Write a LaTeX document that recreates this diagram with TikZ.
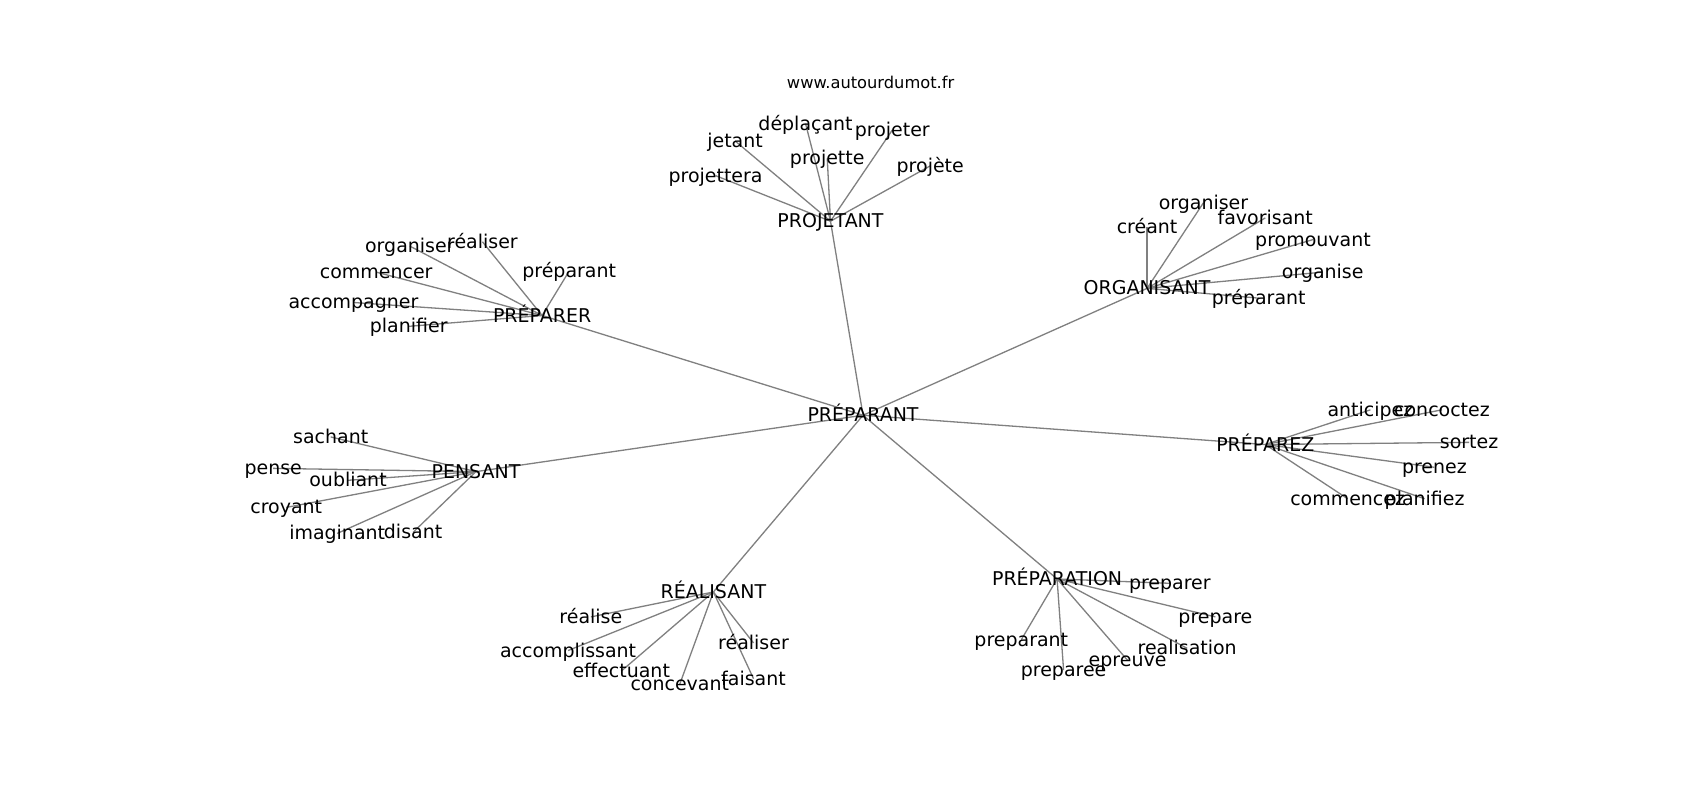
\documentclass[tikz,border=0pt]{standalone}
\usepackage{fontspec}
\setmainfont{DejaVu Sans}
\usetikzlibrary{backgrounds}
\begin{document}
\begin{tikzpicture}[x=1pt,y=-1pt,
  lbl/.style={inner sep=0pt, text height=1.2em, text depth=0em, font=\fontsize{17.5}{20}\selectfont, text=black},
  web/.style={inner sep=0pt, text height=1.1em, text depth=0em, font=\fontsize{15}{18}\selectfont, text=black},
  edge/.style={draw=gray, line width=1.2pt}]
\useasboundingbox (0,0) rectangle (1568,738);
\node[web] (url) at (803,76) {www.autourdumot.fr};
% centre
\node[lbl] (c) at (796,383) {PRÉPARANT};
% hubs
\node[lbl] (proj) at (766,204) {PROJETANT};
\node[lbl] (prer) at (500,291) {PRÉPARER};
\node[lbl] (org) at (1058,266) {ORGANISANT};
\node[lbl] (prez) at (1167,410) {PRÉPAREZ};
\node[lbl] (pens) at (439,435) {PENSANT};
\node[lbl] (real) at (658,546) {RÉALISANT};
\node[lbl] (prep) at (975,534) {PRÉPARATION};
% PROJETANT leaves
\node[lbl] (p1) at (660,162) {projettera};
\node[lbl] (p2) at (678,130) {jetant};
\node[lbl] (p3) at (743,114) {déplaçant};
\node[lbl] (p4) at (763,146) {projette};
\node[lbl] (p5) at (823,120) {projeter};
\node[lbl] (p6) at (858,153) {projète};
% PRÉPARER leaves
\node[lbl] (r1) at (378,227) {organiser};
\node[lbl] (r2) at (445,223) {réaliser};
\node[lbl] (r3) at (525,250) {préparant};
\node[lbl] (r4) at (347,251) {commencer};
\node[lbl] (r5) at (326,279) {accompagner};
\node[lbl] (r6) at (377,301) {planifier};
% ORGANISANT leaves
\node[lbl] (o1) at (1058,209) {créant};
\node[lbl] (o2) at (1110,187) {organiser};
\node[lbl] (o3) at (1167,201) {favorisant};
\node[lbl] (o4) at (1211,221) {promouvant};
\node[lbl] (o5) at (1220,251) {organise};
\node[lbl] (o6) at (1161,275) {préparant};
% PRÉPAREZ leaves
\node[lbl] (z1) at (1264,378) {anticipez};
\node[lbl] (z2) at (1330,378) {concoctez};
\node[lbl] (z3) at (1355,408) {sortez};
\node[lbl] (z4) at (1323,431) {prenez};
\node[lbl] (z5) at (1243,460) {commencez};
\node[lbl] (z6) at (1314,460) {planifiez};
% PENSANT leaves
\node[lbl] (n1) at (305,403) {sachant};
\node[lbl] (n2) at (252,432) {pense};
\node[lbl] (n3) at (321,443) {oubliant};
\node[lbl] (n4) at (264,468) {croyant};
\node[lbl] (n5) at (311,492) {imaginant};
\node[lbl] (n6) at (381,491) {disant};
% RÉALISANT leaves
\node[lbl] (a1) at (545,569) {réalise};
\node[lbl] (a2) at (524,600) {accomplissant};
\node[lbl] (a3) at (573,619) {effectuant};
\node[lbl] (a4) at (627,631) {concevant};
\node[lbl] (a5) at (695,593) {réaliser};
\node[lbl] (a6) at (695,626) {faisant};
% PRÉPARATION leaves
\node[lbl] (t1) at (1079,538) {preparer};
\node[lbl] (t2) at (1121,569) {prepare};
\node[lbl] (t3) at (1095,598) {realisation};
\node[lbl] (t4) at (1040,609) {epreuve};
\node[lbl] (t5) at (981,618) {preparee};
\node[lbl] (t6) at (942,590) {preparant};
\begin{pgfonlayer}{background}
\fill[white] (0,0) rectangle (1568,738);
\foreach \h in {proj,prer,org,prez,pens,real,prep}
  \draw[edge] (c.center) -- (\h.center);
\foreach \l in {p1,p2,p3,p4,p5,p6}
  \draw[edge] (proj.center) -- (\l.center);
\foreach \l in {r1,r2,r3,r4,r5,r6}
  \draw[edge] (prer.center) -- (\l.center);
\foreach \l in {o1,o2,o3,o4,o5,o6}
  \draw[edge] (org.center) -- (\l.center);
\foreach \l in {z1,z2,z3,z4,z5,z6}
  \draw[edge] (prez.center) -- (\l.center);
\foreach \l in {n1,n2,n3,n4,n5,n6}
  \draw[edge] (pens.center) -- (\l.center);
\foreach \l in {a1,a2,a3,a4,a5,a6}
  \draw[edge] (real.center) -- (\l.center);
\foreach \l in {t1,t2,t3,t4,t5,t6}
  \draw[edge] (prep.center) -- (\l.center);
\end{pgfonlayer}
\end{tikzpicture}
\end{document}
